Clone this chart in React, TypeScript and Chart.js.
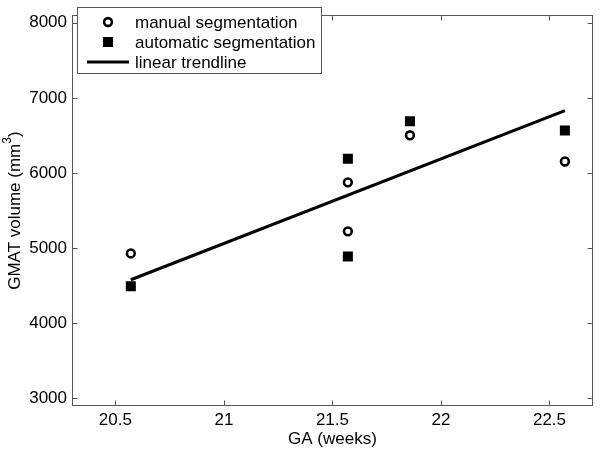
import React, { useEffect, useRef } from "react";
import { Chart, registerables } from "chart.js";

Chart.register(...registerables);

// ---- data ----
const gaManual = [20.571, 21.571, 21.571, 21.857, 22.571];
const volManual = [4930, 5876, 5224, 6502, 6154];
const gaAuto = [20.571, 21.571, 21.571, 21.857, 22.571];
const volAuto = [4494, 6189, 4889, 6690, 6566];
const trendGA = [20.571, 22.571];
const trendVol = [4580, 6830];
const xTicks = [20.5, 21, 21.5, 22, 22.5];
const yTicks = [3000, 4000, 5000, 6000, 7000, 8000];
const legendLabels = ["manual segmentation", "automatic segmentation", "linear trendline"];
const xTitle = "GA (weeks)";
const yTitleMain = "GMAT volume (mm";
const yTitleSup = "3";
const yTitleEnd = ")";

const FONT = '"Liberation Sans", Arial, sans-serif';
const FRAME = "#555";

const framePlugin = {
  id: "matlabFrame",
  afterDatasetsDraw(chart: any) {
    const { ctx, chartArea: a, scales } = chart;
    const L = Math.round(a.left) + 0.5;
    const R = Math.round(a.right) - 0.5;
    const T = Math.round(a.top) + 0.5;
    const B = Math.round(a.bottom) - 0.5;
    ctx.save();
    ctx.strokeStyle = FRAME;
    ctx.lineWidth = 1;
    ctx.strokeRect(L, T, R - L, B - T);
    const tl = 5;
    ctx.beginPath();
    for (const v of xTicks) {
      const p = Math.round(scales.x.getPixelForValue(v)) + 0.5;
      ctx.moveTo(p, B);
      ctx.lineTo(p, B - tl);
      ctx.moveTo(p, T);
      ctx.lineTo(p, T + tl);
    }
    for (const v of yTicks) {
      const p = Math.round(scales.y.getPixelForValue(v)) + 0.5;
      ctx.moveTo(L, p);
      ctx.lineTo(L + tl, p);
      ctx.moveTo(R, p);
      ctx.lineTo(R - tl, p);
    }
    ctx.stroke();
    ctx.restore();
  },
  afterDraw(chart: any) {
    const { ctx, chartArea: a } = chart;
    ctx.save();
    // axis titles
    ctx.fillStyle = "#000";
    ctx.font = `17px ${FONT}`;
    ctx.textAlign = "center";
    ctx.textBaseline = "middle";
    ctx.fillText(xTitle, (a.left + a.right) / 2, 439);

    ctx.save();
    ctx.translate(15, (a.top + a.bottom) / 2);
    ctx.rotate(-Math.PI / 2);
    ctx.textAlign = "left";
    ctx.font = `17px ${FONT}`;
    const w1 = ctx.measureText(yTitleMain).width;
    const w3 = ctx.measureText(yTitleEnd).width;
    ctx.font = `12px ${FONT}`;
    const w2 = ctx.measureText(yTitleSup).width;
    let x0 = -(w1 + w2 + w3) / 2;
    ctx.font = `17px ${FONT}`;
    ctx.fillText(yTitleMain, x0, 0);
    x0 += w1;
    ctx.font = `12px ${FONT}`;
    ctx.fillText(yTitleSup, x0, -7);
    x0 += w2;
    ctx.font = `17px ${FONT}`;
    ctx.fillText(yTitleEnd, x0, 0);
    ctx.restore();

    // legend
    const bx = 77.5, by = 7.5, bw = 244, bh = 66;
    ctx.fillStyle = "#fff";
    ctx.fillRect(bx, by, bw, bh);
    ctx.strokeStyle = FRAME;
    ctx.lineWidth = 1;
    ctx.strokeRect(bx, by, bw, bh);
    const rows = [22, 42, 62];
    const sx = 108;
    // circle
    ctx.beginPath();
    ctx.arc(sx, rows[0], 3.9, 0, Math.PI * 2);
    ctx.fillStyle = "#fff";
    ctx.fill();
    ctx.strokeStyle = "#000";
    ctx.lineWidth = 2.6;
    ctx.stroke();
    // square
    ctx.fillStyle = "#000";
    ctx.fillRect(sx - 5, rows[1] - 5, 10, 10);
    // line
    ctx.beginPath();
    ctx.moveTo(87, rows[2]);
    ctx.lineTo(129, rows[2]);
    ctx.lineWidth = 3;
    ctx.stroke();
    // texts
    ctx.fillStyle = "#000";
    ctx.font = `17px ${FONT}`;
    ctx.textAlign = "left";
    ctx.textBaseline = "middle";
    legendLabels.forEach((t, i) => ctx.fillText(t, 135, rows[i] + 1));
    ctx.restore();
  },
};

export default function App() {
  const ref = useRef<HTMLCanvasElement>(null);
  useEffect(() => {
    document.body.style.margin = "0";
    const chart = new Chart(ref.current as HTMLCanvasElement, {
      type: "scatter",
      data: {
        datasets: [
          {
            label: legendLabels[0],
            data: gaManual.map((x, i) => ({ x, y: volManual[i] })),
            pointStyle: "circle",
            pointRadius: 3.9,
            borderWidth: 2.6,
            borderColor: "#000",
            backgroundColor: "#fff",
          },
          {
            label: legendLabels[1],
            data: gaAuto.map((x, i) => ({ x, y: volAuto[i] })),
            pointStyle: "rect",
            pointRadius: 7.1,
            borderWidth: 0,
            borderColor: "#000",
            backgroundColor: "#000",
          },
          {
            type: "line",
            label: legendLabels[2],
            data: trendGA.map((x, i) => ({ x, y: trendVol[i] })),
            showLine: true,
            borderColor: "#000",
            borderWidth: 3,
            pointRadius: 0,
            fill: false,
          } as any,
        ],
      },
      options: {
        animation: false,
        responsive: true,
        maintainAspectRatio: false,
        layout: { padding: { top: 1, right: 1, left: 0, bottom: 0 } },
        plugins: { legend: { display: false }, tooltip: { enabled: false } },
        scales: {
          x: {
            type: "linear",
            min: 20.3,
            max: 22.7,
            afterBuildTicks: (s: any) => {
              s.ticks = xTicks.map((v) => ({ value: v }));
            },
            afterFit: (s: any) => {
              s.height = 44;
            },
            grid: { display: false, drawTicks: false },
            border: { display: false },
            ticks: {
              autoSkip: false,
              maxRotation: 0,
              padding: 4,
              color: "#000",
              font: { family: FONT, size: 17 },
              callback: (v: any) => String(v),
            },
          },
          y: {
            type: "linear",
            min: 2900,
            max: 8100,
            afterBuildTicks: (s: any) => {
              s.ticks = yTicks.map((v) => ({ value: v }));
            },
            afterFit: (s: any) => {
              s.width = 72;
            },
            grid: { display: false, drawTicks: false },
            border: { display: false },
            ticks: {
              autoSkip: false,
              padding: 5,
              color: "#000",
              font: { family: FONT, size: 17 },
              callback: (v: any) => String(v),
            },
          },
        },
      },
      plugins: [framePlugin],
    });
    return () => chart.destroy();
  }, []);
  return (
    <div style={{ position: "relative", width: 600, height: 450 }}>
      <canvas ref={ref} />
    </div>
  );
}
